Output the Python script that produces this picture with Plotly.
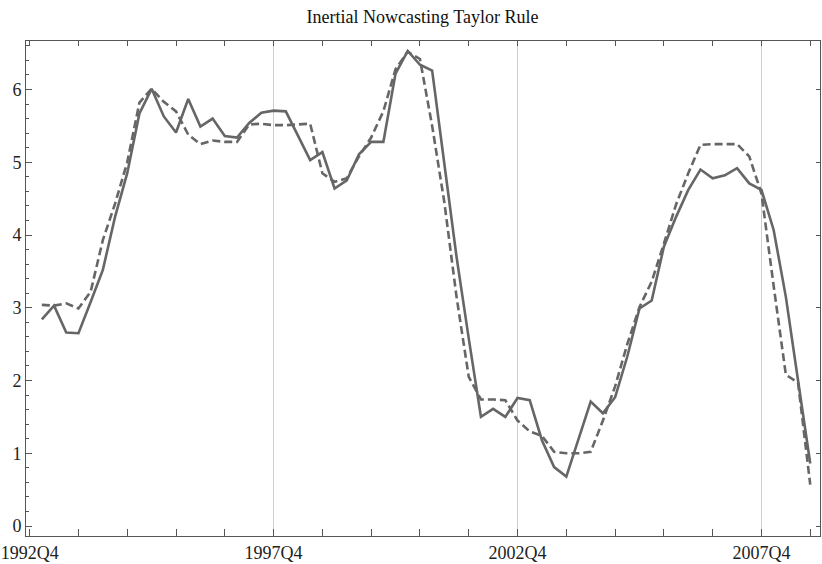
import plotly.graph_objects as go

# quarter index: 0 = 1992Q4, data runs 1993Q1 .. 2008Q4
quarters = list(range(1, 65))

actual_rate = [
    2.84, 3.03, 2.66, 2.65, 3.08, 3.52, 4.25, 4.85, 5.67, 6.01,
    5.63, 5.41, 5.87, 5.49, 5.60, 5.36, 5.34, 5.54, 5.68, 5.71,
    5.70, 5.37, 5.03, 5.14, 4.64, 4.75, 5.11, 5.28, 5.28, 6.22,
    6.53, 6.34, 6.26, 4.98, 3.70, 2.58, 1.50, 1.61, 1.50, 1.76,
    1.73, 1.18, 0.81, 0.68, 1.20, 1.71, 1.55, 1.77, 2.33, 2.99,
    3.10, 3.84, 4.25, 4.62, 4.90, 4.78, 4.82, 4.92, 4.71, 4.62,
    4.07, 3.15, 2.00, 0.86,
]

taylor_rule = [
    3.04, 3.03, 3.06, 2.99, 3.22, 3.93, 4.43, 5.00, 5.82, 6.01,
    5.83, 5.70, 5.38, 5.25, 5.30, 5.28, 5.28, 5.52, 5.53, 5.51,
    5.51, 5.52, 5.53, 4.85, 4.73, 4.78, 5.08, 5.34, 5.70, 6.28,
    6.52, 6.42, 5.50, 4.45, 3.15, 2.05, 1.74, 1.74, 1.73, 1.45,
    1.30, 1.24, 1.02, 1.00, 1.00, 1.02, 1.45, 1.92, 2.50, 3.01,
    3.36, 3.88, 4.42, 4.85, 5.24, 5.25, 5.25, 5.25, 5.08, 4.57,
    3.30, 2.08, 1.97, 0.57,
]

year_ticks = list(range(0, 65, 4))
label_map = {0: "1992Q4", 20: "1997Q4", 40: "2002Q4", 60: "2007Q4"}
year_text = [label_map.get(v, "") for v in year_ticks]
grid_ticks = [20, 40, 60]
y_ticks = [0, 1, 2, 3, 4, 5, 6]

XR = [-0.3, 64.8]
YR = [-0.137, 6.667]
LINE = "#666666"
AX = "#555555"
FONT = "Liberation Serif"
FS = 18

fig = go.Figure()

# invisible helper traces for the grid / mirror axes
fig.add_trace(go.Scatter(x=[XR[0]], y=[YR[0]], xaxis="x3", yaxis="y2",
                         mode="markers", marker=dict(opacity=0),
                         showlegend=False, hoverinfo="skip"))
fig.add_trace(go.Scatter(x=[XR[0]], y=[YR[0]], xaxis="x2", yaxis="y",
                         mode="markers", marker=dict(opacity=0),
                         showlegend=False, hoverinfo="skip"))

fig.add_trace(go.Scatter(x=quarters, y=actual_rate, mode="lines",
                         line=dict(color=LINE, width=2.6),
                         showlegend=False))
fig.add_trace(go.Scatter(x=quarters, y=taylor_rule, mode="lines",
                         line=dict(color=LINE, width=2.6, dash="8px,4px"),
                         showlegend=False))

fig.update_layout(
    width=822, height=564,
    margin=dict(l=26, r=2, t=41, b=28, autoexpand=False),
    paper_bgcolor="white", plot_bgcolor="white",
    font=dict(family=FONT, size=FS, color="#222222"),
    title=dict(text="Inertial Nowcasting Taylor Rule", x=0.514, xanchor="center",
               y=0.97, yanchor="middle", font=dict(family=FONT, size=FS, color="#111111")),
    xaxis=dict(range=XR, tickmode="array", tickvals=year_ticks, ticktext=year_text,
               ticks="inside", ticklen=7, tickwidth=1, tickcolor=AX, automargin=False,
               showgrid=False, zeroline=False, showline=True, linecolor=AX,
               linewidth=1, mirror=True, tickfont=dict(family=FONT, size=FS, color="#222222")),
    xaxis2=dict(range=XR, overlaying="x", side="top", tickmode="array", automargin=False,
                tickvals=year_ticks, ticks="inside", ticklen=5, tickcolor=AX,
                showticklabels=False, showgrid=False, zeroline=False, showline=False),
    xaxis3=dict(range=XR, overlaying="x", side="bottom", tickmode="array", automargin=False,
                tickvals=grid_ticks, ticks="", showticklabels=False,
                showgrid=True, gridcolor="#cfcfcf", gridwidth=1,
                zeroline=False, showline=False, layer="below traces"),
    yaxis=dict(range=YR, tickmode="array", tickvals=y_ticks, automargin=False,
               ticks="inside", ticklen=6, tickwidth=1, tickcolor=AX,
               minor=dict(dtick=0.2, tick0=0, ticks="inside", ticklen=3, tickcolor=AX, showgrid=False),
               showgrid=False, zeroline=False, showline=True, linecolor=AX,
               linewidth=1, mirror=True, tickfont=dict(family=FONT, size=FS, color="#222222")),
    yaxis2=dict(range=YR, overlaying="y", side="right", tickmode="array", automargin=False,
                tickvals=y_ticks, ticks="inside", ticklen=4, tickcolor=AX,
                showticklabels=False, showgrid=False, zeroline=False, showline=False),
)

fig.write_html("out.html", config={"displayModeBar": False},
               post_script="document.body.style.margin='0';document.body.style.overflow='hidden';")
